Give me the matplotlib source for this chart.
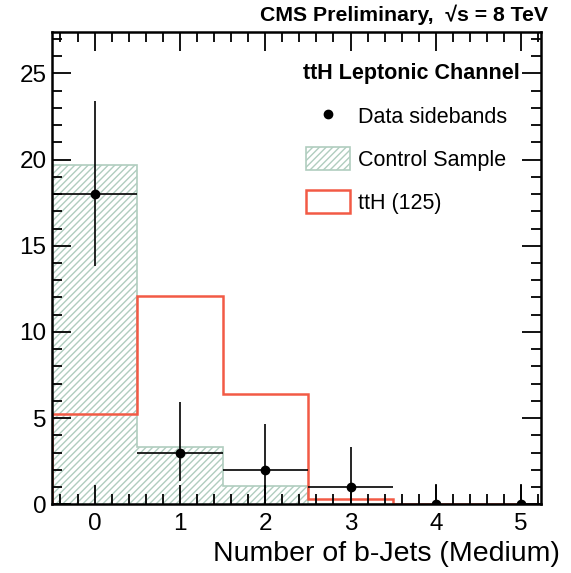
import numpy as np
import matplotlib.pyplot as plt
from matplotlib.patches import Patch
from matplotlib.lines import Line2D
from matplotlib.ticker import MultipleLocator

plt.rcParams['font.family'] = ['Liberation Sans', 'DejaVu Sans']
plt.rcParams['hatch.linewidth'] = 1.0

# b-jet multiplicity bins
bin_edges = [-0.5, 0.5, 1.5, 2.5, 3.5, 4.5, 5.5]
n_bjets = [0, 1, 2, 3, 4, 5]

# control sample (hatched) and ttH(125) signal (red line)
control = [19.7, 3.3, 1.05, 0.0, 0.0, 0.0]
tth = [5.25, 12.1, 6.4, 0.3, 0.0, 0.0]

# data sidebands with asymmetric Poisson errors
data = [18, 3, 2, 1, 0, 0]
err_lo = [4.2, 1.63, 2.0, 1.0, 0.0, 0.0]
err_hi = [5.4, 2.92, 2.64, 2.3, 1.15, 1.15]
x_half = [0.5, 0.5, 0.5, 0.5, 0.0, 0.0]

hatch_col = '#b0cdbf'
red = '#f25a45'

fig = plt.figure(figsize=(5.71, 5.73), dpi=100)
ax = fig.add_axes([0.091, 0.120, 0.856, 0.824])

ax.stairs(control, bin_edges, fill=True, facecolor='white', edgecolor=hatch_col,
          hatch='/////', linewidth=1.2)
ax.stairs(tth, bin_edges, color=red, linewidth=1.8)
ax.errorbar(n_bjets, data, yerr=[err_lo, err_hi], xerr=x_half, fmt='o',
            color='black', markersize=6, elinewidth=1.2, capsize=0)

ax.set_xlim(-0.5, 5.23)
ax.set_ylim(0, 27.4)
ax.xaxis.set_major_locator(MultipleLocator(1))
ax.xaxis.set_minor_locator(MultipleLocator(0.2))
ax.yaxis.set_major_locator(MultipleLocator(5))
ax.yaxis.set_minor_locator(MultipleLocator(1))
ax.tick_params(which='both', direction='in', top=True, right=True, width=1.3,
               labelsize=17.5)
ax.tick_params(which='major', length=14)
ax.tick_params(which='minor', length=7)
ax.tick_params(axis='x', which='major', pad=6)
ax.tick_params(axis='y', which='major', pad=4)
for s in ax.spines.values():
    s.set_linewidth(1.8)

fig.text(0.981, 0.033, 'Number of b-Jets (Medium)', ha='right', va='center',
         fontsize=20.5)
fig.text(0.96, 0.974, 'CMS Preliminary,  √s = 8 TeV', ha='right', va='center',
         fontsize=15.3, fontweight='bold')

ax.text(0.513, 0.913, 'ttH Leptonic Channel', transform=ax.transAxes,
        ha='left', va='center', fontsize=15.5, fontweight='bold')

handles = [
    Line2D([], [], marker='o', color='black', linestyle='none', markersize=6),
    Patch(facecolor='white', edgecolor=hatch_col, hatch='/////', linewidth=1.2),
    Patch(facecolor='white', edgecolor=red, linewidth=1.8),
]
labels = ['Data sidebands', 'Control Sample', 'ttH (125)']
leg = ax.legend(handles, labels, loc='upper left', bbox_to_anchor=(0.498, 0.870),
                frameon=False, fontsize=15.5,
                handlelength=2.05, handleheight=1.25, labelspacing=0.9,
                handletextpad=0.37, borderpad=0)

fig.savefig('out.png', dpi=100)
